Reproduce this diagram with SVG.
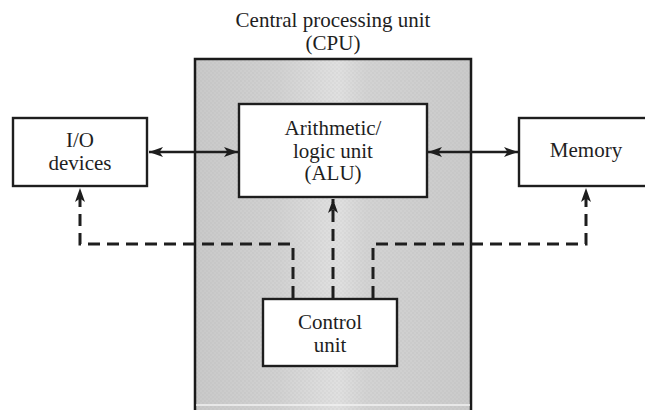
<svg xmlns="http://www.w3.org/2000/svg" width="645" height="410" viewBox="0 0 645 410">
  <style>
    .lbl { font-family: "Liberation Serif", "Times New Roman", serif; font-size: 21px; fill: #1e1e1e; text-anchor: middle; }
    .box { fill: #ffffff; stroke: #1e1e1e; stroke-width: 2.4; }
    .solid { fill: none; stroke: #1e1e1e; stroke-width: 2.4; }
    .dash { fill: none; stroke: #1e1e1e; stroke-width: 3; stroke-dasharray: 12 7; }
  </style>
  <defs>
    <linearGradient id="cpuGrad" x1="0" y1="0" x2="1" y2="0">
      <stop offset="0" stop-color="#c9c9c9"/>
      <stop offset="0.3" stop-color="#d1d1d1"/>
      <stop offset="0.45" stop-color="#dcdcdc"/>
      <stop offset="0.52" stop-color="#e0e0e0"/>
      <stop offset="0.62" stop-color="#d3d3d3"/>
      <stop offset="1" stop-color="#cacaca"/>
    </linearGradient>
    <pattern id="dots" width="4" height="4" patternUnits="userSpaceOnUse">
      <circle cx="1" cy="1" r="0.8" fill="#9a9a9a" opacity="0.25"/>
      <circle cx="3" cy="3" r="0.8" fill="#9a9a9a" opacity="0.18"/>
    </pattern>
    <marker id="ah" markerWidth="15" markerHeight="11" refX="14" refY="5.5" orient="auto-start-reverse" markerUnits="userSpaceOnUse">
      <path d="M0,0.5 L14,5.5 L0,10.5 L3.5,5.5 Z" fill="#1e1e1e"/>
    </marker>
  </defs>

  <g id="cpu">
    <rect x="195" y="59" width="276" height="351" fill="url(#cpuGrad)"/>
    <rect x="195" y="59" width="276" height="351" fill="url(#dots)"/>
    <path d="M195,410 V59 H471 V410" fill="none" stroke="#1a1a1a" stroke-width="2.5"/>
    <line x1="196" y1="405" x2="470" y2="405" stroke="#f2f2f2" stroke-width="1.5"/>
    <text class="lbl" x="333" y="27">Central processing unit</text>
    <text class="lbl" x="333" y="50">(CPU)</text>
  </g>

  <g id="io">
    <rect class="box" x="13" y="118" width="134" height="68"/>
    <text class="lbl" x="80" y="147">I/O</text>
    <text class="lbl" x="80" y="170">devices</text>
  </g>

  <g id="alu">
    <rect class="box" x="239" y="104" width="188" height="93"/>
    <text class="lbl" x="333" y="135">Arithmetic/</text>
    <text class="lbl" x="333" y="157.5">logic unit</text>
    <text class="lbl" x="333" y="180">(ALU)</text>
  </g>

  <g id="memory">
    <rect class="box" x="519" y="118" width="136" height="68"/>
    <text class="lbl" x="586" y="157">Memory</text>
  </g>

  <g id="control">
    <rect class="box" x="263" y="299" width="134" height="67"/>
    <text class="lbl" x="330" y="329">Control</text>
    <text class="lbl" x="330" y="352">unit</text>
  </g>

  <g id="connectors">
    <line class="solid" x1="149" y1="152" x2="238" y2="152" marker-start="url(#ah)" marker-end="url(#ah)"/>
    <line class="solid" x1="428" y1="152" x2="518" y2="152" marker-start="url(#ah)" marker-end="url(#ah)"/>
    <path class="dash" d="M333,298 V199" marker-end="url(#ah)"/>
    <path class="dash" d="M293,298 V244 H80 V188" marker-end="url(#ah)"/>
    <path class="dash" d="M373,298 V244 H586 V188" marker-end="url(#ah)"/>
  </g>
</svg>
